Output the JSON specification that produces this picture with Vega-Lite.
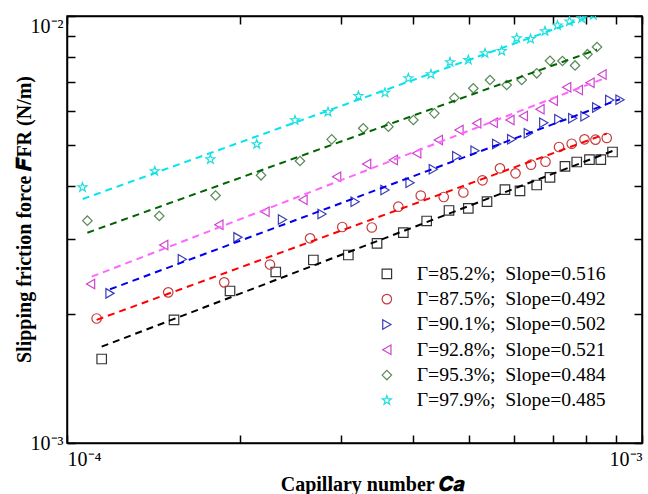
{
  "$schema": "https://vega.github.io/schema/vega-lite/v6.json",
  "width": 575,
  "height": 427,
  "autosize": {"type": "none"},
  "padding": {"left": 67, "top": 16, "right": 6, "bottom": 51},
  "background": "white",
  "config": {"font": "Liberation Serif", "view": {"stroke": "black", "strokeWidth": 1.5}},
  "datasets": {
    "points": [
      {"s": "A", "ca": 1.149e-4, "f": 1.573e-3},
      {"s": "A", "ca": 1.535e-4, "f": 1.942e-3},
      {"s": "A", "ca": 1.921e-4, "f": 2.270e-3},
      {"s": "A", "ca": 2.307e-4, "f": 2.515e-3},
      {"s": "A", "ca": 2.682e-4, "f": 2.683e-3},
      {"s": "A", "ca": 3.085e-4, "f": 2.756e-3},
      {"s": "A", "ca": 3.461e-4, "f": 2.935e-3},
      {"s": "A", "ca": 3.845e-4, "f": 3.108e-3},
      {"s": "A", "ca": 4.222e-4, "f": 3.311e-3},
      {"s": "A", "ca": 4.617e-4, "f": 3.504e-3},
      {"s": "A", "ca": 4.988e-4, "f": 3.545e-3},
      {"s": "A", "ca": 5.376e-4, "f": 3.674e-3},
      {"s": "A", "ca": 5.776e-4, "f": 3.920e-3},
      {"s": "A", "ca": 6.135e-4, "f": 3.893e-3},
      {"s": "A", "ca": 6.560e-4, "f": 4.020e-3},
      {"s": "A", "ca": 6.918e-4, "f": 4.187e-3},
      {"s": "A", "ca": 7.346e-4, "f": 4.446e-3},
      {"s": "A", "ca": 7.700e-4, "f": 4.551e-3},
      {"s": "A", "ca": 8.103e-4, "f": 4.608e-3},
      {"s": "A", "ca": 8.479e-4, "f": 4.608e-3},
      {"s": "A", "ca": 8.887e-4, "f": 4.803e-3},
      {"s": "B", "ca": 1.126e-4, "f": 1.957e-3},
      {"s": "B", "ca": 1.500e-4, "f": 2.253e-3},
      {"s": "B", "ca": 1.877e-4, "f": 2.378e-3},
      {"s": "B", "ca": 2.254e-4, "f": 2.618e-3},
      {"s": "B", "ca": 2.647e-4, "f": 3.015e-3},
      {"s": "B", "ca": 3.011e-4, "f": 3.205e-3},
      {"s": "B", "ca": 3.389e-4, "f": 3.197e-3},
      {"s": "B", "ca": 3.769e-4, "f": 3.576e-3},
      {"s": "B", "ca": 4.123e-4, "f": 3.798e-3},
      {"s": "B", "ca": 4.520e-4, "f": 3.768e-3},
      {"s": "B", "ca": 4.890e-4, "f": 3.861e-3},
      {"s": "B", "ca": 5.280e-4, "f": 4.123e-3},
      {"s": "B", "ca": 5.662e-4, "f": 4.398e-3},
      {"s": "B", "ca": 6.026e-4, "f": 4.281e-3},
      {"s": "B", "ca": 6.412e-4, "f": 4.485e-3},
      {"s": "B", "ca": 6.795e-4, "f": 4.558e-3},
      {"s": "B", "ca": 7.173e-4, "f": 4.934e-3},
      {"s": "B", "ca": 7.546e-4, "f": 5.022e-3},
      {"s": "B", "ca": 7.943e-4, "f": 5.143e-3},
      {"s": "B", "ca": 8.300e-4, "f": 5.133e-3},
      {"s": "B", "ca": 8.683e-4, "f": 5.180e-3},
      {"s": "C", "ca": 1.188e-4, "f": 2.241e-3},
      {"s": "C", "ca": 1.587e-4, "f": 2.693e-3},
      {"s": "C", "ca": 1.983e-4, "f": 3.031e-3},
      {"s": "C", "ca": 2.370e-4, "f": 3.338e-3},
      {"s": "C", "ca": 2.777e-4, "f": 3.438e-3},
      {"s": "C", "ca": 3.170e-4, "f": 3.674e-3},
      {"s": "C", "ca": 3.573e-4, "f": 3.913e-3},
      {"s": "C", "ca": 3.950e-4, "f": 4.071e-3},
      {"s": "C", "ca": 4.336e-4, "f": 4.375e-3},
      {"s": "C", "ca": 4.762e-4, "f": 4.692e-3},
      {"s": "C", "ca": 5.124e-4, "f": 4.836e-3},
      {"s": "C", "ca": 5.588e-4, "f": 5.014e-3},
      {"s": "C", "ca": 5.934e-4, "f": 5.143e-3},
      {"s": "C", "ca": 6.343e-4, "f": 5.313e-3},
      {"s": "C", "ca": 6.748e-4, "f": 5.625e-3},
      {"s": "C", "ca": 7.167e-4, "f": 5.730e-3},
      {"s": "C", "ca": 7.578e-4, "f": 5.760e-3},
      {"s": "C", "ca": 7.959e-4, "f": 5.823e-3},
      {"s": "C", "ca": 8.341e-4, "f": 6.105e-3},
      {"s": "C", "ca": 8.788e-4, "f": 6.357e-3},
      {"s": "C", "ca": 9.157e-4, "f": 6.368e-3},
      {"s": "D", "ca": 1.099e-4, "f": 2.357e-3},
      {"s": "D", "ca": 1.473e-4, "f": 2.909e-3},
      {"s": "D", "ca": 1.837e-4, "f": 3.245e-3},
      {"s": "D", "ca": 2.210e-4, "f": 3.481e-3},
      {"s": "D", "ca": 2.573e-4, "f": 3.714e-3},
      {"s": "D", "ca": 2.944e-4, "f": 4.204e-3},
      {"s": "D", "ca": 3.320e-4, "f": 4.502e-3},
      {"s": "D", "ca": 3.694e-4, "f": 4.600e-3},
      {"s": "D", "ca": 4.057e-4, "f": 4.770e-3},
      {"s": "D", "ca": 4.424e-4, "f": 5.124e-3},
      {"s": "D", "ca": 4.806e-4, "f": 5.408e-3},
      {"s": "D", "ca": 5.159e-4, "f": 5.607e-3},
      {"s": "D", "ca": 5.512e-4, "f": 5.625e-3},
      {"s": "D", "ca": 5.893e-4, "f": 5.707e-3},
      {"s": "D", "ca": 6.218e-4, "f": 5.832e-3},
      {"s": "D", "ca": 6.646e-4, "f": 6.046e-3},
      {"s": "D", "ca": 7.010e-4, "f": 6.332e-3},
      {"s": "D", "ca": 7.396e-4, "f": 6.808e-3},
      {"s": "D", "ca": 7.750e-4, "f": 6.710e-3},
      {"s": "D", "ca": 8.121e-4, "f": 6.980e-3},
      {"s": "D", "ca": 8.520e-4, "f": 7.295e-3},
      {"s": "E", "ca": 1.085e-4, "f": 3.316e-3},
      {"s": "E", "ca": 1.447e-4, "f": 3.401e-3},
      {"s": "E", "ca": 1.813e-4, "f": 3.798e-3},
      {"s": "E", "ca": 2.175e-4, "f": 4.236e-3},
      {"s": "E", "ca": 2.542e-4, "f": 4.575e-3},
      {"s": "E", "ca": 2.886e-4, "f": 5.143e-3},
      {"s": "E", "ca": 3.275e-4, "f": 5.458e-3},
      {"s": "E", "ca": 3.622e-4, "f": 5.505e-3},
      {"s": "E", "ca": 4.003e-4, "f": 5.707e-3},
      {"s": "E", "ca": 4.353e-4, "f": 5.917e-3},
      {"s": "E", "ca": 4.715e-4, "f": 6.432e-3},
      {"s": "E", "ca": 5.089e-4, "f": 6.772e-3},
      {"s": "E", "ca": 5.441e-4, "f": 7.082e-3},
      {"s": "E", "ca": 5.817e-4, "f": 6.893e-3},
      {"s": "E", "ca": 6.178e-4, "f": 7.082e-3},
      {"s": "E", "ca": 6.560e-4, "f": 7.342e-3},
      {"s": "E", "ca": 6.918e-4, "f": 7.855e-3},
      {"s": "E", "ca": 7.272e-4, "f": 7.846e-3},
      {"s": "E", "ca": 7.648e-4, "f": 7.659e-3},
      {"s": "E", "ca": 8.039e-4, "f": 8.138e-3},
      {"s": "E", "ca": 8.351e-4, "f": 8.461e-3},
      {"s": "F", "ca": 1.064e-4, "f": 3.970e-3},
      {"s": "F", "ca": 1.421e-4, "f": 4.330e-3},
      {"s": "F", "ca": 1.776e-4, "f": 4.617e-3},
      {"s": "F", "ca": 2.138e-4, "f": 5.009e-3},
      {"s": "F", "ca": 2.492e-4, "f": 5.698e-3},
      {"s": "F", "ca": 2.844e-4, "f": 5.959e-3},
      {"s": "F", "ca": 3.212e-4, "f": 6.494e-3},
      {"s": "F", "ca": 3.573e-4, "f": 6.612e-3},
      {"s": "F", "ca": 3.923e-4, "f": 7.147e-3},
      {"s": "F", "ca": 4.295e-4, "f": 7.303e-3},
      {"s": "F", "ca": 4.636e-4, "f": 7.796e-3},
      {"s": "F", "ca": 4.988e-4, "f": 7.889e-3},
      {"s": "F", "ca": 5.333e-4, "f": 8.178e-3},
      {"s": "F", "ca": 5.702e-4, "f": 8.279e-3},
      {"s": "F", "ca": 6.055e-4, "f": 8.872e-3},
      {"s": "F", "ca": 6.399e-4, "f": 8.834e-3},
      {"s": "F", "ca": 6.781e-4, "f": 9.209e-3},
      {"s": "F", "ca": 7.129e-4, "f": 9.502e-3},
      {"s": "F", "ca": 7.480e-4, "f": 9.707e-3},
      {"s": "F", "ca": 7.855e-4, "f": 9.876e-3},
      {"s": "F", "ca": 8.229e-4, "f": 1.005e-2}
    ],
    "fits": [
      {"s": "A", "ca": 1.149e-4, "f": 1.681e-3},
      {"s": "A", "ca": 8.887e-4, "f": 4.831e-3},
      {"s": "B", "ca": 1.126e-4, "f": 1.942e-3},
      {"s": "B", "ca": 8.683e-4, "f": 5.304e-3},
      {"s": "C", "ca": 1.188e-4, "f": 2.291e-3},
      {"s": "C", "ca": 9.157e-4, "f": 6.385e-3},
      {"s": "D", "ca": 1.104e-4, "f": 2.452e-3},
      {"s": "D", "ca": 8.520e-4, "f": 7.110e-3},
      {"s": "E", "ca": 1.085e-4, "f": 3.108e-3},
      {"s": "E", "ca": 8.351e-4, "f": 8.345e-3},
      {"s": "F", "ca": 1.065e-4, "f": 3.727e-3},
      {"s": "F", "ca": 8.500e-4, "f": 1.021e-2}
    ]
  },
  "layer": [
    {
      "data": {"name": "points"},
      "mark": {"type": "point", "filled": false, "size": 90, "strokeWidth": 1.2, "opacity": 1, "clip": true},
      "encoding": {
        "x": {
          "field": "ca", "type": "quantitative",
          "scale": {"type": "log", "domain": [0.0001, 0.001], "nice": false},
          "axis": {
            "orient": "bottom",
            "values": [0.0001, 0.0002, 0.0003, 0.0004, 0.0005, 0.0006, 0.0007, 0.0008, 0.0009, 0.001],
            "labelExpr": "datum.value < 0.00015 ? '10⁻⁴' : (datum.value > 0.00095 ? '10⁻³' : '')",
            "labelFlush": true,
            "labelFont": "Liberation Serif", "labelFontSize": 20, "labelColor": "black",
            "labelPadding": 14, "labelOverlap": false,
            "tickSize": -8, "tickWidth": 1.5, "tickColor": "black",
            "domainColor": "black", "domainWidth": 1.5, "grid": false,
            "title": "Capillary number 𝑪𝒂",
            "titleFont": "Liberation Serif", "titleFontSize": 20, "titleFontWeight": "bold", "titleColor": "black",
            "titleX": 305, "titleY": 47, "titleBaseline": "alphabetic", "titleAlign": "center"
          }
        },
        "y": {
          "field": "f", "type": "quantitative",
          "scale": {"type": "log", "domain": [0.001, 0.01], "nice": false},
          "axis": {
            "orient": "left",
            "values": [0.001, 0.002, 0.003, 0.004, 0.005, 0.006, 0.007, 0.008, 0.009, 0.01],
            "labelExpr": "datum.value < 0.0015 ? '10⁻³' : (datum.value > 0.0095 ? '10⁻²' : '')",
            "labelFlush": false,
            "labelBaseline": {"condition": {"test": "datum.value > 0.0095", "value": "top"}, "value": "middle"},
            "labelFont": "Liberation Serif", "labelFontSize": 20, "labelColor": "black",
            "labelPadding": 12, "labelOverlap": false,
            "tickSize": -8, "tickWidth": 1.5, "tickColor": "black",
            "domainColor": "black", "domainWidth": 1.5, "grid": false,
            "title": "Slipping friction force 𝑭FR (N/m)",
            "titleFont": "Liberation Serif", "titleFontSize": 20, "titleFontWeight": "bold", "titleColor": "black",
            "titleX": -43, "titleY": 203, "titleBaseline": "middle", "titleAlign": "center", "titleAngle": -90
          }
        },
        "color": {
          "field": "s", "type": "nominal",
          "scale": {
            "domain": ["A", "B", "C", "D", "E", "F"],
            "range": ["#333333", "#c43c3c", "#3c3cb4", "#cc44cc", "#5a8a5a", "#22dddd"]
          },
          "legend": {
            "title": null, "orient": "none", "legendX": 310, "legendY": 248,
            "labelExpr": "datum.label == 'A' ? 'Γ=85.2%;\u00a0\u00a0Slope=0.516' : datum.label == 'B' ? 'Γ=87.5%;\u00a0\u00a0Slope=0.492' : datum.label == 'C' ? 'Γ=90.1%;\u00a0\u00a0Slope=0.502' : datum.label == 'D' ? 'Γ=92.8%;\u00a0\u00a0Slope=0.521' : datum.label == 'E' ? 'Γ=95.3%;\u00a0\u00a0Slope=0.484' : 'Γ=97.9%;\u00a0\u00a0Slope=0.485'",
            "labelFont": "Liberation Serif", "labelFontSize": 19.7, "labelColor": "black", "labelLimit": 0,
            "symbolSize": 90, "symbolStrokeWidth": 1.2, "labelOffset": 20, "rowPadding": 4.3, "padding": 0
          }
        },
        "shape": {
          "field": "s", "type": "nominal",
          "scale": {
            "domain": ["A", "B", "C", "D", "E", "F"],
            "range": ["square", "circle", "triangle-right", "triangle-left", "diamond", "M0,-1L0.235,-0.324L0.951,-0.309L0.38,0.124L0.588,0.809L0,0.4L-0.588,0.809L-0.38,0.124L-0.951,-0.309L-0.235,-0.324Z"]
          },
          "legend": {
            "title": null, "orient": "none", "legendX": 310, "legendY": 248,
            "labelExpr": "datum.label == 'A' ? 'Γ=85.2%;\u00a0\u00a0Slope=0.516' : datum.label == 'B' ? 'Γ=87.5%;\u00a0\u00a0Slope=0.492' : datum.label == 'C' ? 'Γ=90.1%;\u00a0\u00a0Slope=0.502' : datum.label == 'D' ? 'Γ=92.8%;\u00a0\u00a0Slope=0.521' : datum.label == 'E' ? 'Γ=95.3%;\u00a0\u00a0Slope=0.484' : 'Γ=97.9%;\u00a0\u00a0Slope=0.485'",
            "labelFont": "Liberation Serif", "labelFontSize": 19.7, "labelColor": "black", "labelLimit": 0,
            "symbolSize": 90, "symbolStrokeWidth": 1.2, "labelOffset": 20, "rowPadding": 4.3, "padding": 0
          }
        }
      }
    },
    {
      "data": {"name": "fits"},
      "mark": {"type": "line", "strokeDash": [7, 5], "strokeWidth": 2, "clip": true},
      "encoding": {
        "x": {
          "field": "ca", "type": "quantitative",
          "scale": {"type": "log", "domain": [0.0001, 0.001], "nice": false},
          "axis": {
            "orient": "top",
            "values": [0.0001, 0.0002, 0.0003, 0.0004, 0.0005, 0.0006, 0.0007, 0.0008, 0.0009, 0.001],
            "labels": false, "title": null,
            "tickSize": -8, "tickWidth": 1.5, "tickColor": "black",
            "domainColor": "black", "domainWidth": 1.5, "grid": false
          }
        },
        "y": {
          "field": "f", "type": "quantitative",
          "scale": {"type": "log", "domain": [0.001, 0.01], "nice": false},
          "axis": {
            "orient": "right",
            "values": [0.001, 0.002, 0.003, 0.004, 0.005, 0.006, 0.007, 0.008, 0.009, 0.01],
            "labels": false, "title": null,
            "tickSize": -8, "tickWidth": 1.5, "tickColor": "black",
            "domainColor": "black", "domainWidth": 1.5, "grid": false
          }
        },
        "stroke": {
          "field": "s", "type": "nominal",
          "scale": {
            "domain": ["A", "B", "C", "D", "E", "F"],
            "range": ["#000000", "#ff0000", "#0000ee", "#ff66ff", "#006400", "#00e5ee"]
          },
          "legend": null
        }
      }
    }
  ],
  "resolve": {"axis": {"x": "independent", "y": "independent"}}
}
